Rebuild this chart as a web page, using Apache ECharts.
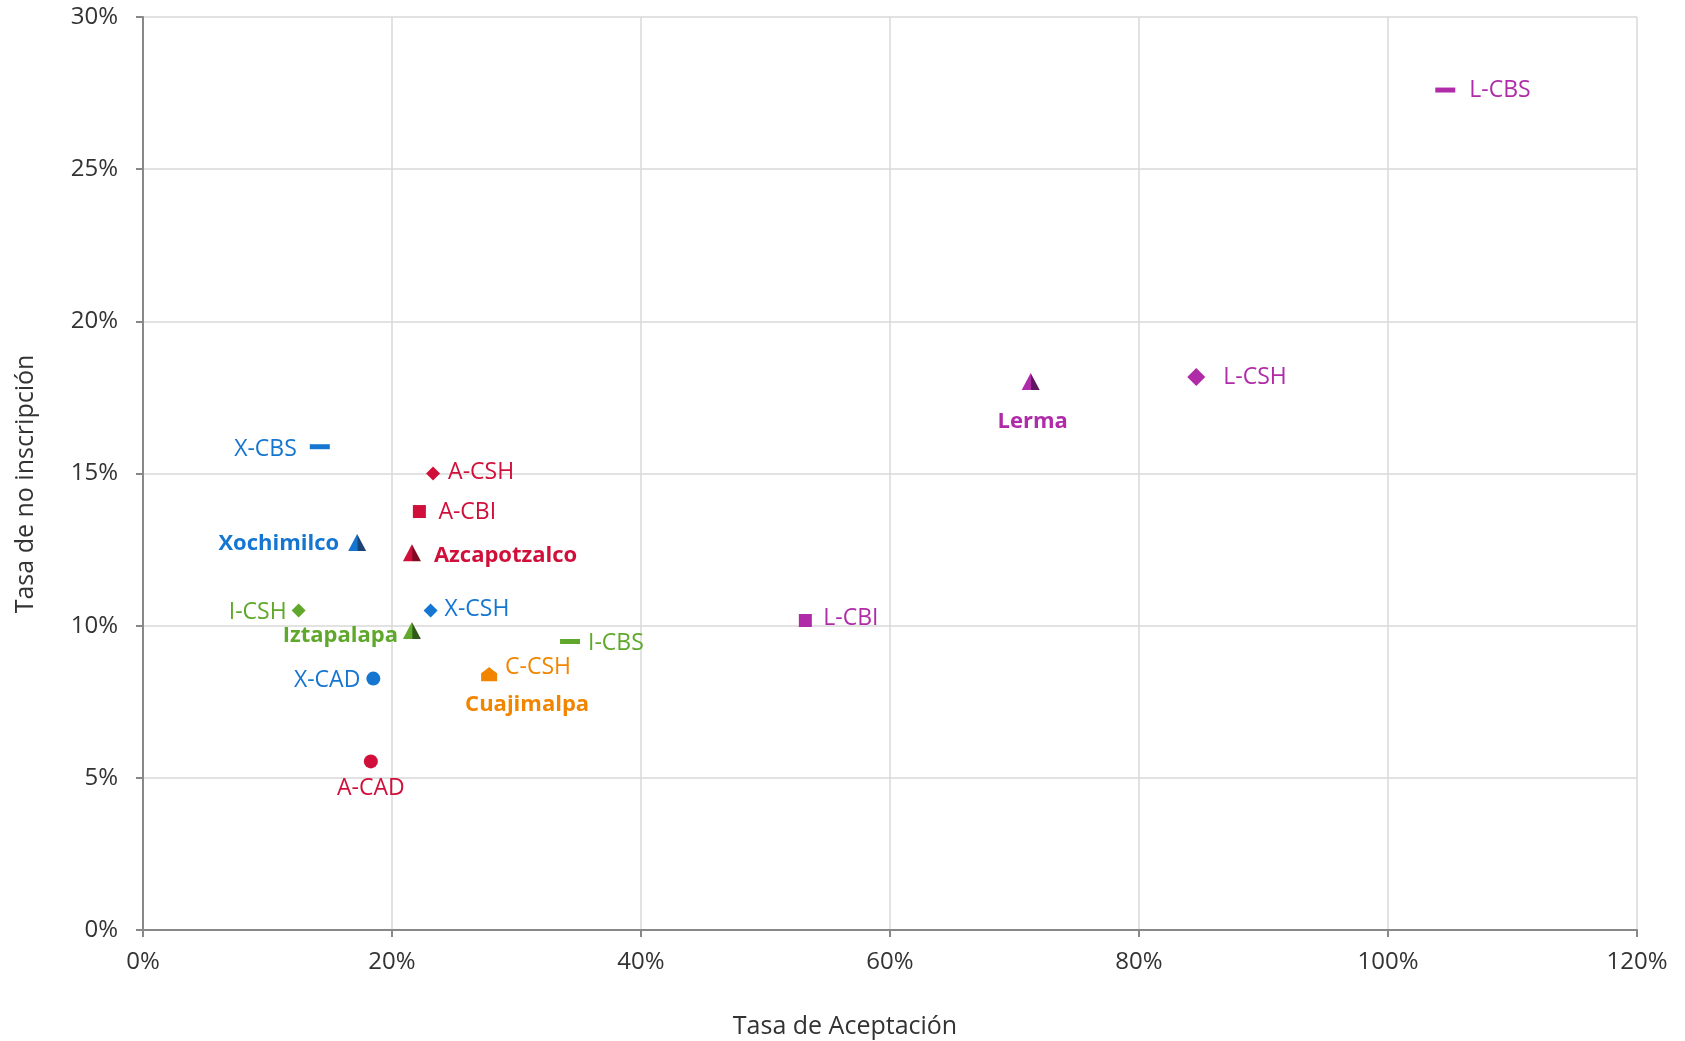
<!DOCTYPE html>
<html>
<head>
<meta charset="utf-8">
<script src="https://cdn.jsdelivr.net/npm/echarts@6/dist/echarts.min.js"></script>
<style>
html,body{margin:0;padding:0;background:#fff;}
#chart{width:1685px;height:1041px;}
</style>
</head>
<body>
<div id="chart"></div>
<script>
// ---- data ----
const names = ['L-CBS','L-CSH','Lerma','L-CBI','X-CBS','A-CSH','A-CBI','Xochimilco','Azcapotzalco','I-CSH','X-CSH','Iztapalapa','I-CBS','C-CSH','Cuajimalpa','X-CAD','A-CAD'];
const campus = ['L','L','L','L','X','A','A','X','A','I','X','I','I','C','C','X','A'];
const kind = ['CBS','CSH','campus','CBI','CBS','CSH','CBI','campus','campus','CSH','CSH','campus','CBS','CSH','campusC','CAD','CAD'];
const acceptRate = [104.6, 84.6, 71.3, 53.2, 14.2, 23.3, 22.2, 17.2, 21.6, 12.5, 23.1, 21.6, 34.3, 27.8, 27.8, 18.5, 18.3];
const noEnrollRate = [27.6, 18.17, 18.02, 10.17, 15.88, 15.0, 13.75, 12.73, 12.4, 10.5, 10.5, 9.84, 9.48, 8.4, 8.4, 8.26, 5.54];
const xTicks = [0, 20, 40, 60, 80, 100, 120];
const yTicks = [0, 5, 10, 15, 20, 25, 30];

// ---- styles ----
const campusColor = {A:'#D0103A', X:'#1576D2', I:'#5FA82B', C:'#F28500', L:'#B02BA8'};
const campusDark = {A:'#7E0B22', X:'#1B4475', I:'#2F5A17', C:'#B05E00', L:'#5E1760'};
const symbolByKind = {
  CBS: {symbol:'rect', size:[20,5]},
  CSH: {symbol:'diamond', size:[14,14]},
  CBI: {symbol:'rect', size:[13,13]},
  CAD: {symbol:'circle', size:[14,14]},
  campus: {symbol:'triangle', size:[18,17]},
  campusC: {symbol:'path://M0,6 L8,0 L16,6 L16,14 L0,14 Z', size:[16,14]}
};
const bigL = {'L-CSH':[18,18]};
// label placement relative to marker centre: [align, dx, dy]
const labelPlace = {
  'L-CBS':['left',24,0], 'L-CSH':['left',27,0], 'Lerma':['center',2,40], 'L-CBI':['left',18,-2],
  'X-CBS':['right',-23,3], 'A-CSH':['left',15,-1], 'A-CBI':['left',19,1], 'Xochimilco':['right',-18,1],
  'Azcapotzalco':['left',22,3], 'I-CSH':['right',-12,2], 'X-CSH':['left',14,-1], 'Iztapalapa':['right',-14,5],
  'I-CBS':['left',18,2], 'C-CSH':['left',16,-7], 'Cuajimalpa':['left',-24,30], 'X-CAD':['right',-13,2], 'A-CAD':['center',0,27]
};

const items = names.map((n, i) => {
  const k = kind[i];
  const c = campus[i];
  const isCampus = (k === 'campus');
  const sym = symbolByKind[k];
  const size = bigL[n] || sym.size;
  const lp = labelPlace[n];
  const color = isCampus ? {
    type:'linear', x:0, y:0, x2:1, y2:0,
    colorStops:[{offset:0, color:campusColor[c]},{offset:0.5, color:campusColor[c]},{offset:0.55, color:campusDark[c]},{offset:1, color:campusDark[c]}]
  } : campusColor[c];
  const bold = (k === 'campus' || k === 'campusC');
  return {
    name: n,
    value: [acceptRate[i], noEnrollRate[i]],
    symbol: sym.symbol,
    symbolSize: size,
    itemStyle: {color: color, opacity: 1},
    label: {
      show: true,
      formatter: n,
      position: [size[0] / 2 + lp[1], size[1] / 2 + lp[2]],
      align: lp[0],
      verticalAlign: 'middle',
      color: campusColor[c],
      fontFamily: 'Open Sans',
      fontSize: bold ? 22 : 23,
      fontWeight: bold ? 'bold' : 'normal'
    }
  };
});

const chart = echarts.init(document.getElementById('chart'));
chart.setOption({
  backgroundColor: '#ffffff',
  animation: false,
  grid: {left: 143, right: 48, top: 17, bottom: 111, containLabel: false},
  xAxis: {
    type: 'value', min: xTicks[0], max: xTicks[xTicks.length-1], interval: xTicks[1]-xTicks[0],
    axisLine: {show: true, lineStyle: {color: '#888888', width: 2}},
    axisTick: {show: true, length: 7, lineStyle: {color: '#888888', width: 2}},
    axisLabel: {formatter: '{value}%', color: '#333333', fontFamily: 'Open Sans', fontSize: 24, margin: 20},
    splitLine: {show: true, lineStyle: {color: '#D9D9D9', width: 1.5}}
  },
  yAxis: {
    type: 'value', min: yTicks[0], max: yTicks[yTicks.length-1], interval: yTicks[1]-yTicks[0],
    axisLine: {show: true, lineStyle: {color: '#888888', width: 2}},
    axisTick: {show: true, length: 7, lineStyle: {color: '#888888', width: 2}},
    axisLabel: {formatter: '{value}%', color: '#333333', fontFamily: 'Open Sans', fontSize: 24, margin: 25},
    splitLine: {show: true, lineStyle: {color: '#D9D9D9', width: 1.5}}
  },
  graphic: [
    {type:'text', x: 845, y: 1027, style:{text:'Tasa de Aceptación', fill:'#333333', font:'25px "Open Sans"', align:'center', verticalAlign:'middle'}},
    {type:'text', x: 26, y: 484, rotation: Math.PI/2, style:{text:'Tasa de no inscripción', fill:'#333333', font:'25px "Open Sans"', align:'center', verticalAlign:'middle'}}
  ],
  series: [{
    type: 'scatter',
    data: items
  }]
});
</script>
</body>
</html>
